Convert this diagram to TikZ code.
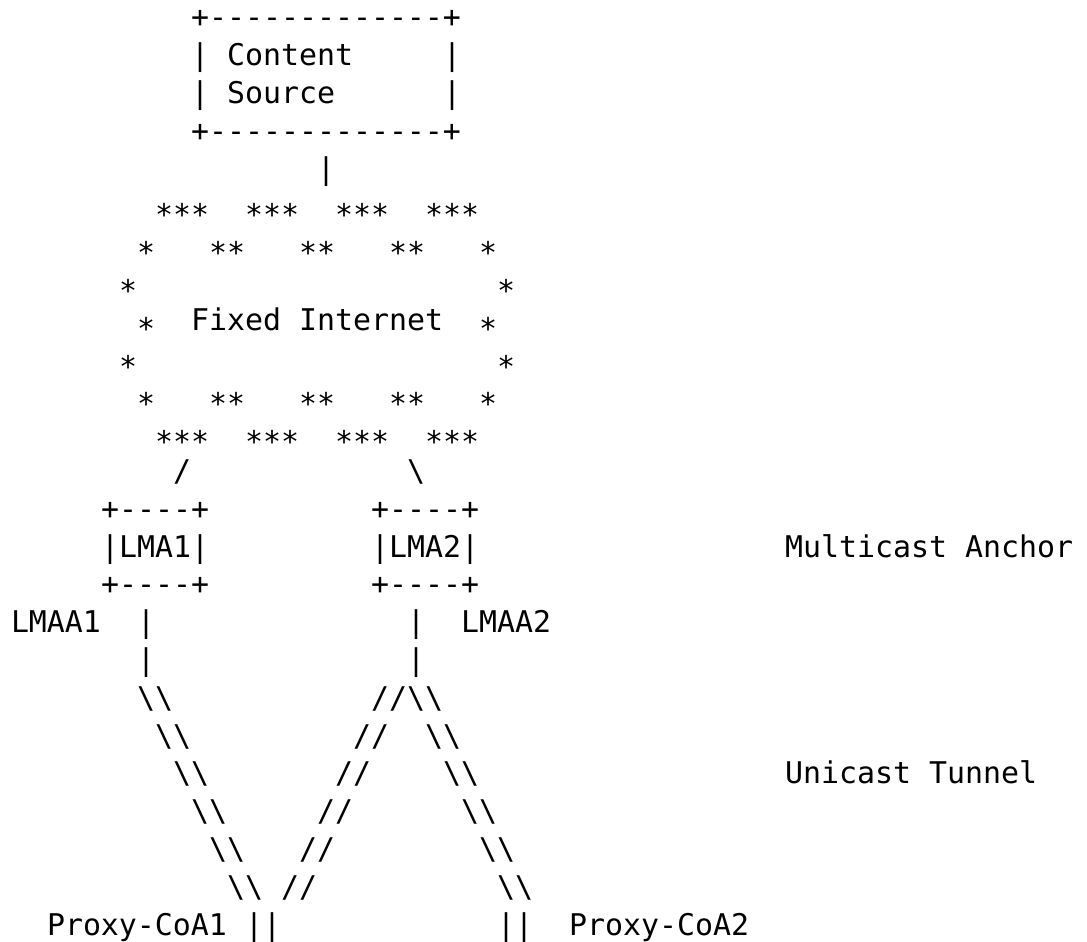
\documentclass[tikz,border=0pt]{standalone}
\usepackage{fontspec}
\setmonofont{DejaVu Sans Mono}
\tikzset{
  txt/.style={anchor=base west, inner sep=0pt, outer sep=0pt,
    font=\ttfamily\fontsize{29.9}{36}\selectfont, text=black},
}
\newcommand\stars[1]{\raisebox{-9pt}{#1}}
\begin{document}
\begin{tikzpicture}
\useasboundingbox[fill=white] (0pt,0pt) rectangle (1087pt,-942pt);
\begin{scope}[x=18pt, y=-37.8pt, shift={(11pt,-27.8pt)}]
% Content source box
\node[txt] (cstop) at (10,0) {+-------------+};
\node[txt] (csl1) at (10,1) {|};
\node[txt] (content) at (12,1) {Content};
\node[txt] (csr1) at (24,1) {|};
\node[txt] (csl2) at (10,2) {|};
\node[txt] (source) at (12,2) {Source};
\node[txt] (csr2) at (24,2) {|};
\node[txt] (csbot) at (10,3) {+-------------+};
\node[txt] (cslink) at (17,4) {|};
% Fixed Internet cloud
\node[txt] (s5a) at (8,5) {\stars{***}};
\node[txt] (s5b) at (13,5) {\stars{***}};
\node[txt] (s5c) at (18,5) {\stars{***}};
\node[txt] (s5d) at (23,5) {\stars{***}};
\node[txt] (s6a) at (7,6) {\stars{*}};
\node[txt] (s6b) at (11,6) {\stars{**}};
\node[txt] (s6c) at (16,6) {\stars{**}};
\node[txt] (s6d) at (21,6) {\stars{**}};
\node[txt] (s6e) at (26,6) {\stars{*}};
\node[txt] (s7a) at (6,7) {\stars{*}};
\node[txt] (s7b) at (27,7) {\stars{*}};
\node[txt] (s8a) at (7,8) {\stars{*}};
\node[txt] (fixed) at (10,8) {Fixed};
\node[txt] (internet) at (16,8) {Internet};
\node[txt] (s8b) at (26,8) {\stars{*}};
\node[txt] (s9a) at (6,9) {\stars{*}};
\node[txt] (s9b) at (27,9) {\stars{*}};
\node[txt] (s10a) at (7,10) {\stars{*}};
\node[txt] (s10b) at (11,10) {\stars{**}};
\node[txt] (s10c) at (16,10) {\stars{**}};
\node[txt] (s10d) at (21,10) {\stars{**}};
\node[txt] (s10e) at (26,10) {\stars{*}};
\node[txt] (s11a) at (8,11) {\stars{***}};
\node[txt] (s11b) at (13,11) {\stars{***}};
\node[txt] (s11c) at (18,11) {\stars{***}};
\node[txt] (s11d) at (23,11) {\stars{***}};
% links to LMAs
\node[txt] (l1up) at (9,12) {/};
\node[txt] (l2up) at (22,12) {\textbackslash};
% LMA boxes
\node[txt] (lma1top) at (5,13) {+----+};
\node[txt] (lma2top) at (20,13) {+----+};
\node[txt] (lma1) at (5,14) {|LMA1|};
\node[txt] (lma2) at (20,14) {|LMA2|};
\node[txt] (multicast) at (43,14) {Multicast};
\node[txt] (anchor) at (53,14) {Anchor};
\node[txt] (lma1bot) at (5,15) {+----+};
\node[txt] (lma2bot) at (20,15) {+----+};
\node[txt] (lmaa1) at (0,16) {LMAA1};
\node[txt] (l1a) at (7,16) {|};
\node[txt] (l2a) at (22,16) {|};
\node[txt] (lmaa2) at (25,16) {LMAA2};
\node[txt] (l1b) at (7,17) {|};
\node[txt] (l2b) at (22,17) {|};
% tunnels
\node[txt] (t18a) at (7,18) {\textbackslash\textbackslash};
\node[txt] (t18b) at (20,18) {//\textbackslash\textbackslash};
\node[txt] (t19a) at (8,19) {\textbackslash\textbackslash};
\node[txt] (t19b) at (19,19) {//};
\node[txt] (t19c) at (23,19) {\textbackslash\textbackslash};
\node[txt] (t20a) at (9,20) {\textbackslash\textbackslash};
\node[txt] (t20b) at (18,20) {//};
\node[txt] (t20c) at (24,20) {\textbackslash\textbackslash};
\node[txt] (unicast) at (43,20) {Unicast};
\node[txt] (tunnel) at (51,20) {Tunnel};
\node[txt] (t21a) at (10,21) {\textbackslash\textbackslash};
\node[txt] (t21b) at (17,21) {//};
\node[txt] (t21c) at (25,21) {\textbackslash\textbackslash};
\node[txt] (t22a) at (11,22) {\textbackslash\textbackslash};
\node[txt] (t22b) at (16,22) {//};
\node[txt] (t22c) at (26,22) {\textbackslash\textbackslash};
\node[txt] (t23a) at (12,23) {\textbackslash\textbackslash};
\node[txt] (t23b) at (15,23) {//};
\node[txt] (t23c) at (27,23) {\textbackslash\textbackslash};
\node[txt] (pcoa1) at (2,24) {Proxy-CoA1};
\node[txt] (p1) at (13,24) {||};
\node[txt] (p2) at (27,24) {||};
\node[txt] (pcoa2) at (31,24) {Proxy-CoA2};
\end{scope}
\end{tikzpicture}
\end{document}
